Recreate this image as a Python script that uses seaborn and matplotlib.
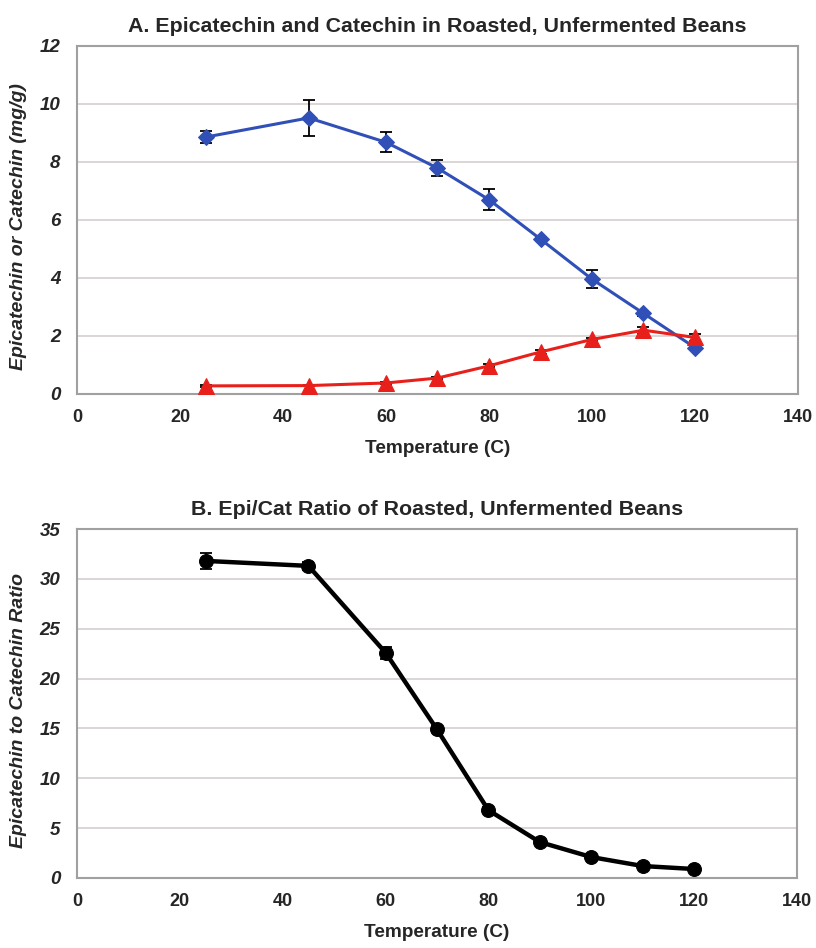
import matplotlib
matplotlib.use("Agg")
import matplotlib.pyplot as plt
import seaborn as sns
import pandas as pd

temps = [25, 45, 60, 70, 80, 90, 100, 110, 120]
epicatechin = [8.86, 9.52, 8.68, 7.79, 6.70, 5.34, 3.96, 2.78, 1.60]
epicatechin_err = [0.22, 0.62, 0.35, 0.27, 0.36, 0.08, 0.30, 0.08, 0.08]
catechin = [0.28, 0.29, 0.38, 0.55, 0.97, 1.45, 1.88, 2.20, 1.95]
catechin_err = [0.03, 0.03, 0.03, 0.04, 0.05, 0.06, 0.06, 0.12, 0.12]
ratio = [31.8, 31.3, 22.6, 14.9, 6.8, 3.6, 2.1, 1.2, 0.9]
ratio_err = [0.8, 0.4, 0.6, 0.3, 0.3, 0.2, 0.2, 0.1, 0.1]

title_a = "A. Epicatechin and Catechin in Roasted, Unfermented Beans"
title_b = "B. Epi/Cat Ratio of Roasted, Unfermented Beans"
xlabel = "Temperature (C)"
ylabel_a = "Epicatechin or Catechin (mg/g)"
ylabel_b = "Epicatechin to Catechin Ratio"
xticks = [0, 20, 40, 60, 80, 100, 120, 140]
yticks_a = [0, 2, 4, 6, 8, 10, 12]
yticks_b = [0, 5, 10, 15, 20, 25, 30, 35]

sns.set_theme(style="white")
plt.rcParams['font.family'] = ['Liberation Sans', 'DejaVu Sans']

fig = plt.figure(figsize=(8.16, 9.48), dpi=100)
W, H = 816, 948
def axrect(l, r, t, b):
    return [l / W, 1 - b / H, (r - l) / W, (b - t) / H]

ax1 = fig.add_axes(axrect(77, 798, 46, 394))
ax2 = fig.add_axes(axrect(77, 797, 529, 878))

dfa = pd.DataFrame({"T": temps, "epi": epicatechin, "cat": catechin})
dfb = pd.DataFrame({"T": temps, "ratio": ratio})

blue = "#3050B8"
red = "#E8201C"

ax1.errorbar(temps, epicatechin, yerr=epicatechin_err, fmt='none', ecolor='black',
             elinewidth=1.3, capsize=4, capthick=1.3, zorder=2)
ax1.errorbar(temps, catechin, yerr=catechin_err, fmt='none', ecolor='black',
             elinewidth=1.3, capsize=4, capthick=1.3, zorder=2)
sns.lineplot(data=dfa, x="T", y="epi", ax=ax1, color=blue, lw=2.2, marker='D',
             markersize=8.5, markeredgecolor=blue, zorder=3)
sns.lineplot(data=dfa, x="T", y="cat", ax=ax1, color=red, lw=2.2, marker='^',
             markersize=11, markeredgecolor=red, zorder=3)

ax2.errorbar(temps, ratio, yerr=ratio_err, fmt='none', ecolor='black',
             elinewidth=1.3, capsize=4, capthick=1.3, zorder=2)
sns.lineplot(data=dfb, x="T", y="ratio", ax=ax2, color='black', lw=3.2, marker='o',
             markersize=10, markeredgecolor='black', zorder=3)

for ax, yt, title, yl, ymax in [(ax1, yticks_a, title_a, ylabel_a, 12),
                                (ax2, yticks_b, title_b, ylabel_b, 35)]:
    ax.set_xlim(0, 140)
    ax.set_ylim(0, ymax)
    ax.set_xticks(xticks)
    ax.set_yticks(yt)
    ax.set_xticklabels([str(v) for v in xticks], fontsize=13, fontweight='bold')
    ax.set_yticklabels([str(v) for v in yt], fontsize=13.5, fontweight='bold', style='italic')
    ax.yaxis.grid(True, color='#D4D0D0', lw=1.2)
    ax.set_axisbelow(True)
    for s in ax.spines.values():
        s.set_color('#A0A0A0')
        s.set_linewidth(1.5)
    ax.tick_params(axis='x', direction='out', length=5, color='#A0A0A0', width=1.2, pad=6)
    ax.tick_params(axis='y', direction='out', length=4, color='#A0A0A0', width=1.2, pad=8)
    ax.set_xlabel(xlabel, fontsize=13.7, fontweight='bold', labelpad=10)
    ax.set_ylabel(yl, fontsize=14, fontweight='bold', style='italic')
    ax.yaxis.set_label_coords(-0.069, 0.48)
    ax.set_title(title, fontsize=15.4, fontweight='bold', pad=10)

fig.savefig("out.png", dpi=100, facecolor='white')
